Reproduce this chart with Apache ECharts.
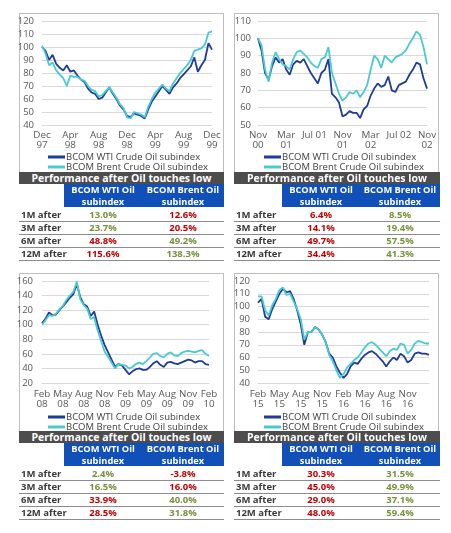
<!DOCTYPE html>
<html><head><meta charset="utf-8">
<script src="https://cdn.jsdelivr.net/npm/echarts@6/dist/echarts.min.js"></script>
<style>
body{margin:0;background:#fff;}
#wrap{position:relative;width:451px;height:533px;overflow:hidden;font-family:"Open Sans",sans-serif;}
.box{position:absolute;border:1px solid #BFBFBF;box-sizing:border-box;}
#chart{position:absolute;left:0;top:0;width:451px;height:533px;}
.band{position:absolute;background:#4D4D4D;color:#fff;font-weight:bold;font-size:10.5px;text-align:center;line-height:12px;height:12px;white-space:nowrap;overflow:hidden;}
.hdr{position:absolute;background:#1050B8;color:#fff;font-weight:bold;font-size:9.3px;}
.hdr div{position:absolute;top:0;text-align:center;line-height:11.5px;padding-top:0px;white-space:nowrap;}
.row{position:absolute;height:12px;border-bottom:1px solid #8C8C8C;font-weight:bold;font-size:9.5px;color:#3A3A3A;line-height:12px;}
.row span{position:absolute;top:0;white-space:nowrap;}
</style></head>
<body>
<div id="wrap">
  <div class="box" style="left:19px;top:13px;width:205px;height:161px"></div>
  <div class="box" style="left:234px;top:13px;width:205px;height:161px"></div>
  <div class="box" style="left:19px;top:273px;width:205px;height:160px"></div>
  <div class="box" style="left:234px;top:273px;width:205px;height:160px"></div>
  <div id="chart"></div>
  <div id="tables"></div>
</div>
<script>
// ---------------- data ----------------
const seriesNames = ['BCOM WTI Crude Oil subindex', 'BCOM Brent Crude Oil subindex'];

// Chart 1: Dec 97 - Dec 99 (semi-monthly)
const ticks1 = ['Dec\n97','Apr\n98','Aug\n98','Dec\n98','Apr\n99','Aug\n99','Dec\n99'];
const wti1 = [100,97,90,94,87,84,82,86,81,82,78,75,73,68,65,64,60,61,65,69,64,60,55,52,47,46,49,48,47,45,52,58,62,66,70,67,64,69,72,76,79,82,85,92,81,86,90,103,98];
const brent1 = [101,95,86,88,82,79,76,70,78,77,77,75,74,70,67,66,62,63,66,69,65,61,56,53,46,45,50,49,48,46,54,60,65,68,71,68,66,72,76,80,83,86,90,97,98,99,102,111,112];

// Chart 2: Nov 00 - Nov 02
const ticks2 = ['Nov\n00','Mar\n01','Jul 01','Nov\n01','Mar\n02','Jul 02','Nov\n02'];
const wti2 = [100,93,80,76,84,89,86,88,82,79,85,87,86,88,84,80,77,74,80,82,88,68,66,63,55,56,58,57,57,54,59,61,67,71,74,72,73,78,70,69,73,74,75,79,82,86,85,77,71];
const brent2 = [100,96,82,75,86,92,88,85,84,82,88,92,93,91,89,86,84,83,88,89,95,80,74,68,64,66,69,68,70,66,69,73,82,90,88,83,90,88,86,89,90,91,93,97,100,104,102,95,85];

// Chart 3: Feb 08 - Feb 10
const ticks3 = ['Feb\n08','May\n08','Aug\n08','Nov\n08','Feb\n09','May\n09','Aug\n09','Nov\n09','Feb\n10'];
const wti3 = [102,108,117,113,114,120,125,131,137,142,156,138,128,125,112,118,100,85,72,62,52,42,46,44,38,32,36,39,40,38,38,42,47,50,45,42,48,49,47,46,48,50,52,51,48,50,50,46,45];
const brent3 = [100,106,113,112,115,121,126,134,140,145,159,135,127,122,108,110,92,78,63,56,48,40,46,45,44,40,42,46,48,46,50,55,60,61,57,55,60,62,58,57,61,63,64,63,62,64,65,60,57];

// Chart 4: Feb 15 - Feb 17
const ticks4 = ['Feb\n15','May\n15','Aug\n15','Nov\n15','Feb\n16','May\n16','Aug\n16','Nov\n16',''];
const wti4 = [103,106,92,90,98,104,110,114,111,112,106,97,86,70,80,80,84,82,78,72,63,60,53,48,44,47,53,56,55,59,62,64,65,63,60,57,53,57,60,58,63,61,56,58,63,64,63,63,62];
const brent4 = [108,108,97,93,101,106,113,115,109,110,104,98,90,74,80,80,84,82,78,72,62,57,50,44,47,52,55,58,60,64,68,71,72,70,67,64,61,65,67,66,71,70,63,66,71,73,72,71,71];

// Tables
const tableTitle = 'Performance after Oil touches low';
const colHeads = [['BCOM WTI Oil','subindex'],['BCOM Brent Oil','subindex']];
const rowLabels = ['1M after','3M after','6M after','12M after'];
const perfWti1 = [13.0,23.7,48.8,115.6], perfBrent1 = [12.6,20.5,49.2,138.3];
const perfWti2 = [6.4,14.1,49.7,34.4],  perfBrent2 = [8.5,19.4,57.5,41.3];
const perfWti3 = [2.4,16.5,33.9,28.5],  perfBrent3 = [-3.8,16.0,40.0,31.8];
const perfWti4 = [30.3,45.0,29.0,48.0], perfBrent4 = [31.5,49.9,37.1,59.4];

// ---------------- layout ----------------
const STEP = 0.5; // months per point
const panels = [
  {ticks:ticks1, wti:wti1, brent:brent1, min:40, max:120, iv:10, xiv:4, grid:{left:42,top:21,width:170,height:104}, lm:8, xm:5, leg:{left:48,top:152}},
  {ticks:ticks2, wti:wti2, brent:brent2, min:50, max:110, iv:10, xiv:4, grid:{left:258,top:21,width:169,height:104}, lm:7, xm:5, leg:{left:264,top:152}},
  {ticks:ticks3, wti:wti3, brent:brent3, min:20, max:160, iv:20, xiv:3, grid:{left:42,top:281,width:167,height:102}, lm:9, xm:6, leg:{left:48,top:412}},
  {ticks:ticks4, wti:wti4, brent:brent4, min:40, max:120, iv:10, xiv:3, grid:{left:258,top:281,width:171,height:102}, lm:8, xm:6, leg:{left:264,top:412}}
];
const COL_WTI = '#1F3C96', COL_BRENT = '#48CAD2';
const FONT = '"Open Sans", sans-serif';

const option = {animation:false, grid:[], xAxis:[], yAxis:[], series:[], legend:[]};
panels.forEach((p, k) => {
  option.grid.push(Object.assign({containLabel:false}, p.grid));
  option.xAxis.push({type:'value', gridIndex:k, min:0, max:(p.ticks.length-1)*p.xiv, interval:p.xiv,
    axisLine:{show:true, lineStyle:{color:'#D9D9D9'}}, axisTick:{show:false}, splitLine:{show:false},
    axisLabel:{color:'#595959', fontSize:9.8, fontFamily:FONT, lineHeight:10, margin:p.xm,
      formatter:(v)=>p.ticks[Math.round(v/p.xiv)] || ''}});
  option.yAxis.push({type:'value', gridIndex:k, min:p.min, max:p.max, interval:p.iv,
    axisLine:{show:false}, axisTick:{show:false},
    splitLine:{show:true, lineStyle:{color:'#D9D9D9', width:1}},
    axisLabel:{color:'#595959', fontSize:9.5, fontFamily:FONT, margin:p.lm}});
  option.series.push({name:seriesNames[0], type:'line', xAxisIndex:k, yAxisIndex:k, symbol:'none',
    lineStyle:{color:COL_WTI, width:1.8}, itemStyle:{color:COL_WTI},
    data:p.wti.map((v,i)=>[i*STEP, v])});
  option.series.push({name:seriesNames[1], type:'line', xAxisIndex:k, yAxisIndex:k, symbol:'none',
    lineStyle:{color:COL_BRENT, width:1.8}, itemStyle:{color:COL_BRENT},
    data:p.brent.map((v,i)=>[i*STEP, v])});
  option.legend.push({orient:'vertical', left:p.leg.left, top:p.leg.top, itemGap:0, padding:0,
    icon:'rect', itemWidth:17, itemHeight:3, selectedMode:false,
    textStyle:{color:'#404040', fontSize:9.5, fontFamily:FONT, lineHeight:10, padding:[0,0,0,-4]},
    data:seriesNames});
});
const chart = echarts.init(document.getElementById('chart'), null, {renderer:'canvas'});
chart.setOption(option);

// ---------------- tables ----------------
const tables = [
  {wti:perfWti1, brent:perfBrent1, x:19, w:205, bx:64, split:142, y:172},
  {wti:perfWti2, brent:perfBrent2, x:234, w:206, bx:282, split:360, y:172},
  {wti:perfWti3, brent:perfBrent3, x:19, w:205, bx:64, split:142, y:431},
  {wti:perfWti4, brent:perfBrent4, x:234, w:206, bx:282, split:360, y:431}
];
const GREEN = '#76923C', RED = '#C00000';
const host = document.getElementById('tables');
function el(cls, css, html){const d=document.createElement('div'); d.className=cls; d.style.cssText=css; if(html!==undefined) d.innerHTML=html; host.appendChild(d); return d;}
tables.forEach(t => {
  el('band', `left:${t.x}px;top:${t.y}px;width:${t.w}px;`, tableTitle);
  const right = t.x + t.w;
  const hdr = el('hdr', `left:${t.bx}px;top:${t.y+12}px;width:${right-t.bx}px;height:23px;`);
  const c1w = t.split - t.bx, c2w = right - t.split;
  [[0,c1w],[c1w,c2w]].forEach((c,j)=>{
    const d=document.createElement('div'); d.style.left=c[0]+'px'; d.style.width=c[1]+'px';
    d.innerHTML=colHeads[j].join('<br>'); hdr.appendChild(d);
  });
  rowLabels.forEach((lab,i)=>{
    const top = t.y + 37 + i*13;
    const r = el('row', `left:${t.x}px;top:${top}px;width:${t.w}px;`);
    const a = t.wti[i], b = t.brent[i];
    const ca = a >= b ? GREEN : RED, cb = b > a ? GREEN : RED;
    r.innerHTML = `<span style="left:2px">${lab}</span>`+
      `<span style="left:${t.bx-t.x}px;width:${c1w}px;text-align:center;color:${ca}">${a.toFixed(1)}%</span>`+
      `<span style="left:${t.split-t.x}px;width:${c2w}px;text-align:center;color:${cb}">${b.toFixed(1)}%</span>`;
  });
});
</script>
</body></html>
